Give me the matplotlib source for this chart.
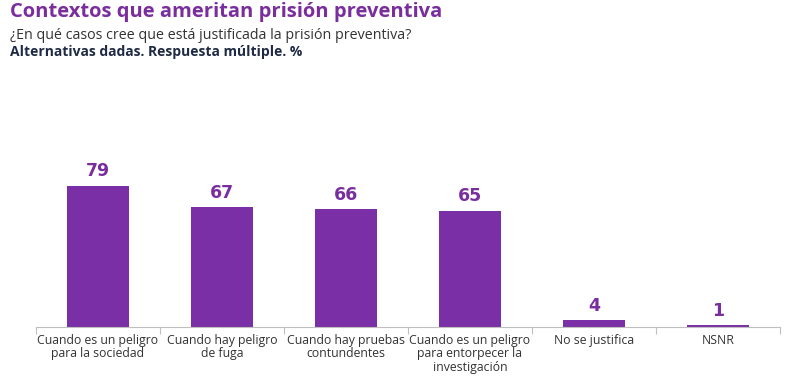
import matplotlib
matplotlib.use("Agg")
import matplotlib.pyplot as plt

categories = ["Cuando es un peligro\npara la sociedad", "Cuando hay peligro\nde fuga",
              "Cuando hay pruebas\ncontundentes", "Cuando es un peligro\npara entorpecer la\ninvestigación",
              "No se justifica", "NSNR"]
values = [79, 67, 66, 65, 4, 1]

purple = "#7B2FA6"
title_color = "#7A2E9E"
plt.rcParams['font.family'] = ['Open Sans', 'DejaVu Sans']

fig = plt.figure(figsize=(7.9, 3.77), dpi=100)
ax = fig.add_axes([0.0456, 0.1326, 0.9414, 0.474])
x = range(len(values))
ax.bar(x, values, width=0.5, color=purple)
for xi, v in zip(x, values):
    ax.text(xi, v + 3, str(v), ha="center", va="bottom", color=title_color,
            fontsize=12.5, fontweight="bold", family=["DejaVu Sans"])
ax.set_xlim(-0.5, len(values) - 0.5)
ax.set_ylim(0, 100)
ax.set_yticks([])
for s in ["top", "right", "left"]:
    ax.spines[s].set_visible(False)
ax.spines["bottom"].set_color("#BFBFBF")
ax.set_xticks([i - 0.5 for i in range(len(values) + 1)], minor=False)
ax.set_xticklabels([])
ax.tick_params(axis="x", which="major", length=5, color="#BFBFBF")
ax.set_xticks(list(x), minor=True)
ax.set_xticklabels(categories, minor=True, fontsize=8.8, color="#333333", linespacing=1.05)
ax.tick_params(axis="x", which="minor", length=0, pad=5)

fig.text(0.013, 0.968, "Contextos que ameritan prisión preventiva", fontsize=14.5,
         fontweight="bold", color=title_color, va="center")
fig.text(0.013, 0.905, "¿En qué casos cree que está justificada la prisión preventiva?",
         fontsize=10.3, color="#333333", va="center")
fig.text(0.013, 0.862, "Alternativas dadas. Respuesta múltiple. %", fontsize=10,
         fontweight="bold", color="#1F2A44", va="center")
fig.savefig("out.png", dpi=100)
